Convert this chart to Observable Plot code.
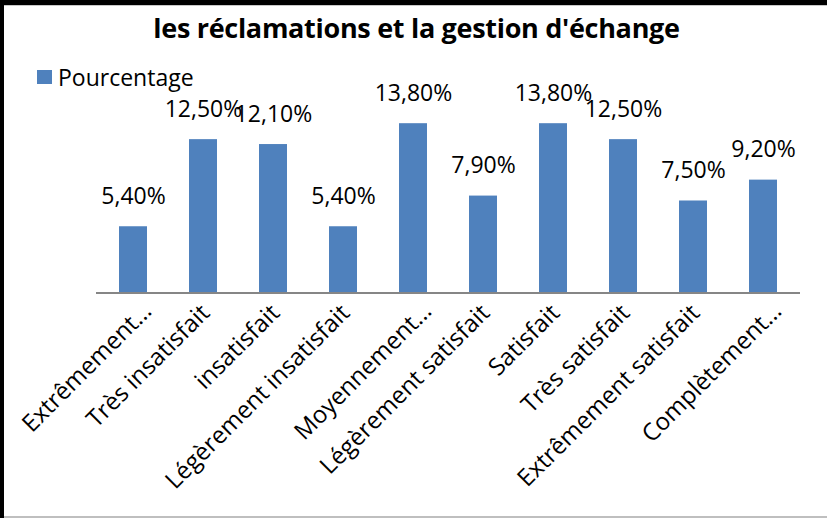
<!DOCTYPE html>
<html>
<head>
<meta charset="utf-8">
<script src="https://cdn.jsdelivr.net/npm/d3@7"></script>
<script src="https://cdn.jsdelivr.net/npm/@observablehq/plot@0.6"></script>
<style>
  html, body { margin: 0; padding: 0; background: #fff; }
  #frame { position: relative; width: 827px; height: 518px; overflow: hidden; background: #fff; font-family: "Open Sans", sans-serif; }
  #topbar { position: absolute; left: 0; top: 0; width: 827px; height: 5px; background: #000; }
  #topgray { position: absolute; left: 4px; top: 5px; width: 823px; height: 1px; background: #c8c8c8; }
  #leftbar { position: absolute; left: 0; top: 0; width: 4px; height: 518px; background: #000; }
  #bottomgray { position: absolute; left: 4px; top: 516px; width: 823px; height: 2px; background: #bfbfbf; }
  #title { position: absolute; left: 0; width: 833px; top: 9px; text-align: center; font-weight: bold; font-size: 27px; color: #000; letter-spacing: -0.3px; }
  #legend { position: absolute; left: 37px; top: 61px; font-size: 23px; color: #000; display: flex; align-items: center; }
  #legend .sw { width: 15px; height: 14px; background: #4F81BD; margin-right: 6px; }
  #chart { position: absolute; left: 0; top: 0; }
</style>
</head>
<body>
<div id="frame">
  <div id="topbar"></div>
  <div id="topgray"></div>
  <div id="leftbar"></div>
  <div id="bottomgray"></div>
  <div id="chart"></div>
  <div id="title">les réclamations et la gestion d'échange</div>
  <div id="legend"><div class="sw"></div><span>Pourcentage</span></div>
</div>
<script>
const categories = [
  "Extrêmement…",
  "Très insatisfait",
  "insatisfait",
  "Légèrement insatisfait",
  "Moyennement…",
  "Légèrement satisfait",
  "Satisfait",
  "Très satisfait",
  "Extrêmement satisfait",
  "Complètement…"
];
const values = [5.4, 12.5, 12.1, 5.4, 13.8, 7.9, 13.8, 12.5, 7.5, 9.2];
const valueLabels = ["5,40%", "12,50%", "12,10%", "5,40%", "13,80%", "7,90%", "13,80%", "12,50%", "7,50%", "9,20%"];

const data = categories.map((c, i) => ({cat: c, v: values[i], label: valueLabels[i]}));
const truncated = categories.filter(c => c.endsWith("…"));
const full = categories.filter(c => !c.endsWith("…"));

const chart = Plot.plot({
  width: 827,
  height: 518,
  marginLeft: 96,
  marginRight: 27,
  marginTop: 96.2,
  marginBottom: 225.5,
  style: {fontFamily: "'Open Sans', sans-serif", background: "transparent"},
  x: {domain: categories, paddingInner: 0.6, paddingOuter: 0.3, label: null},
  y: {domain: [0, 16], label: null, axis: null},
  marks: [
    Plot.barY(data, {x: "cat", y: "v", fill: "#4F81BD"}),
    Plot.ruleY([0], {stroke: "#868686", strokeWidth: 2}),
    Plot.text(data, {x: "cat", y: "v", text: "label", fontSize: 23, fill: "#000", lineAnchor: "bottom", dy: -23}),
    Plot.axisX({ticks: full, tickSize: 0, tickPadding: 8, tickRotate: -45, fontSize: 24, fill: "#000", dx: 2, dy: 8, label: null}),
    Plot.axisX({ticks: truncated, tickSize: 0, tickPadding: 8, tickRotate: -45, fontSize: 24, fill: "#000", dx: 14, dy: 6, label: null})
  ]
});
document.getElementById("chart").appendChild(chart);
</script>
</body>
</html>
